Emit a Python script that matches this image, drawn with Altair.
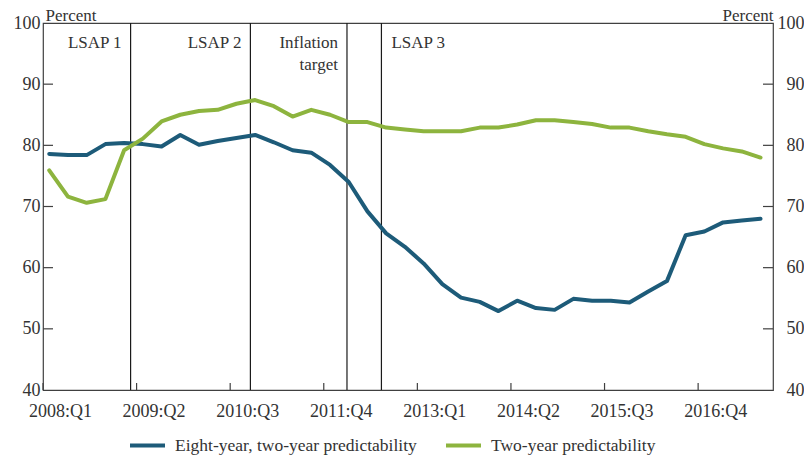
import json
import altair as alt
import pandas as pd

# ---------------- data ----------------
start_year = 2008
eight_year = [78.6, 78.4, 78.4, 80.2, 80.4, 80.2, 79.8, 81.7, 80.1, 80.7, 81.2, 81.7,
              80.5, 79.2, 78.8, 76.8, 74.0, 69.2, 65.6, 63.4, 60.7, 57.3, 55.1, 54.4,
              52.9, 54.6, 53.4, 53.1, 54.9, 54.6, 54.6, 54.3, 56.1, 57.8, 65.3, 65.9,
              67.4, 67.7, 68.0]
two_year = [75.9, 71.6, 70.6, 71.2, 79.2, 81.1, 83.9, 85.0, 85.6, 85.8, 86.8, 87.4,
            86.4, 84.7, 85.8, 85.0, 83.8, 83.8, 82.9, 82.6, 82.3, 82.3, 82.3, 82.9,
            82.9, 83.4, 84.1, 84.1, 83.8, 83.5, 82.9, 82.9, 82.3, 81.8, 81.4, 80.2,
            79.5, 79.0, 78.0]
series_names = ["Eight-year, two-year predictability", "Two-year predictability"]
series_colors = ["#1d5b79", "#8db43e"]

tick_years = [2008.0, 2009.25, 2010.5, 2011.75, 2013.0, 2014.25, 2015.5, 2016.75]
tick_labels = ["2008:Q1", "2009:Q2", "2010:Q3", "2011:Q4", "2013:Q1", "2014:Q2", "2015:Q3", "2016:Q4"]
y_ticks = [40, 50, 60, 70, 80, 90, 100]
y_inner_ticks = [50, 60, 70, 80, 90]

event_times = [2009.17, 2010.77, 2012.06, 2012.52]
event_labels = ["LSAP 1", "LSAP 2", "Inflation\ntarget", "LSAP 3"]
event_sides = ["right", "right", "right", "left"]

# ---------------- tables ----------------
n = len(eight_year)
t_vals = [start_year + i / 4 + 1 / 12 for i in range(n)]  # middle month of each quarter
df = pd.DataFrame({
    "t": t_vals * 2,
    "value": eight_year + two_year,
    "series": [series_names[0]] * n + [series_names[1]] * n,
})
events = pd.DataFrame({"t": event_times, "label": event_labels, "side": event_sides})
xticks_df = pd.DataFrame({"t": tick_years})
yticks_df = pd.DataFrame({"v": y_inner_ticks})

W, H = 730, 367
FONT = "Liberation Serif"
TXT = "#333333"
AX = "#404040"

xscale = alt.Scale(domain=[2008, 2017.75], nice=False, zero=False)
yscale = alt.Scale(domain=[40, 100], nice=False, zero=False)

label_expr = f"{json.dumps(tick_labels)}[indexof({json.dumps(tick_years)}, datum.value)]"

event_rules = alt.Chart(events).mark_rule(color="#1a1a1a", strokeWidth=1.2).encode(
    x=alt.X("t:Q", scale=xscale, title=None)
)

lines = alt.Chart(df).mark_line(strokeWidth=4, strokeJoin="round", strokeCap="round").encode(
    x=alt.X("t:Q", scale=xscale, title=None,
            axis=alt.Axis(values=tick_years, labelExpr=label_expr, ticks=False, domain=False,
                          grid=False, labelFlush=False, labelOffset=17, labelPadding=12,
                          labelFont=FONT, labelFontSize=18, labelColor=TXT, labelOverlap=False)),
    y=alt.Y("value:Q", scale=yscale,
            axis=alt.Axis(values=y_ticks, ticks=False, domain=False, grid=False,
                          labelPadding=3, labelFont=FONT, labelFontSize=18, labelColor=TXT,
                          title="Percent", titleAngle=0, titleAlign="left", titleBaseline="alphabetic",
                          titleX=2, titleY=-3, titleFont=FONT, titleFontSize=17,
                          titleFontWeight="normal", titleColor=TXT)),
    color=alt.Color("series:N", scale=alt.Scale(domain=series_names, range=series_colors),
                    legend=alt.Legend(title=None, orient="none", legendX=85, legendY=403,
                                      direction="horizontal", symbolType="stroke",
                                      symbolSize=1225, symbolStrokeWidth=4, labelFont=FONT,
                                      labelFontSize=17.5, labelColor=TXT, labelOffset=8,
                                      labelLimit=400, columnPadding=21, padding=0)),
    order=alt.Order("t:Q"),
)

text_right = alt.Chart(events).transform_filter(alt.datum.side == "right").mark_text(
    align="right", baseline="alphabetic", dx=-9, font=FONT, fontSize=17, color=TXT,
    lineBreak="\n", lineHeight=22
).encode(x=alt.X("t:Q", scale=xscale, title=None), y=alt.value(25), text="label:N")

text_left = alt.Chart(events).transform_filter(alt.datum.side == "left").mark_text(
    align="left", baseline="alphabetic", dx=10, font=FONT, fontSize=17, color=TXT,
    lineBreak="\n", lineHeight=22
).encode(x=alt.X("t:Q", scale=xscale, title=None), y=alt.value(25), text="label:N")

left_ticks = alt.Chart(yticks_df).mark_rule(color=AX, strokeWidth=1.2).encode(
    y=alt.Y("v:Q", scale=yscale, axis=None), x=alt.value(0), x2=alt.value(10)
)

right_ticks = alt.Chart(yticks_df).mark_rule(color=AX, strokeWidth=1.2).encode(
    y=alt.Y("v:Q", scale=yscale,
            axis=alt.Axis(orient="right", values=y_ticks, ticks=False, domain=False, grid=False,
                          labelAlign="right", labelPadding=31, labelFont=FONT, labelFontSize=18,
                          labelColor=TXT, title="Percent", titleAngle=0, titleAlign="right",
                          titleBaseline="alphabetic", titleX=0, titleY=-3, titleFont=FONT,
                          titleFontSize=17, titleFontWeight="normal", titleColor=TXT)),
    x=alt.value(W - 10), x2=alt.value(W),
)

bottom_ticks = alt.Chart(xticks_df).mark_rule(color=AX, strokeWidth=1.2).encode(
    x=alt.X("t:Q", scale=xscale, title=None), y=alt.value(H - 7), y2=alt.value(H)
)

chart = alt.layer(
    event_rules, lines, text_right, text_left, left_ticks, right_ticks, bottom_ticks
).resolve_scale(y="independent").properties(
    width=W, height=H, autosize="none",
    padding={"left": 35, "top": 15, "right": 31, "bottom": 65},
    background="white",
).configure_view(stroke=AX, strokeWidth=1.2)

chart.save("out.html", embed_options={"renderer": "svg", "actions": False})
